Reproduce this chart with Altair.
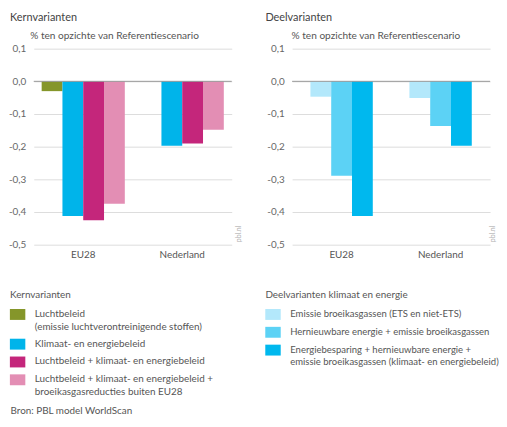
import altair as alt
import pandas as pd

FONT = "Lato"

countries = ["EU28", "Nederland"]

kern_series = [
    "Luchtbeleid|(emissie luchtverontreinigende stoffen)",
    "Klimaat- en energiebeleid",
    "Luchtbeleid + klimaat- en energiebeleid",
    "Luchtbeleid + klimaat- en energiebeleid +|broeikasgasreducties buiten EU28",
]
kern_eu28 = [-0.03, -0.412, -0.425, -0.375]
kern_nl = [0.0, -0.197, -0.19, -0.148]
kern_colors = ["#85962a", "#00b4ea", "#c4267b", "#e38eb4"]

deel_series = [
    "Emissie broeikasgassen (ETS en niet-ETS)",
    "Hernieuwbare energie + emissie broeikasgassen",
    "Energiebesparing + hernieuwbare energie +|emissie broeikasgassen (klimaat- en energiebeleid)",
]
deel_eu28 = [-0.047, -0.289, -0.412]
deel_nl = [-0.051, -0.137, -0.197]
deel_colors = ["#b3e8fb", "#5cd2f5", "#00b8ee"]

y_ticks = [-0.5, -0.4, -0.3, -0.2, -0.1, 0.0, 0.1]

W, H = 200, 198
BAR_W = 21
TXT = "#555555"


def panel(title, legend_title, series, eu, nl, colors, left_shift, sub_x, pbl_x,
          label_limit, label_size, bron=None):
    n = len(series)
    df = pd.DataFrame({
        "land": [countries[0]] * n + [countries[1]] * n,
        "serie": series + series,
        "waarde": eu + nl,
    })
    offset_pad = (W / 2 / BAR_W - n) / 2

    y_axis = alt.Axis(
        values=y_ticks,
        labelExpr="(datum.value < 0 ? '-' : '') + replace(format(abs(datum.value), '.1f'), '.', ',')",
        labelFontSize=10, labelColor="#666666", labelPadding=8,
        domain=False, ticks=False, grid=True, gridColor="#dddddd", gridWidth=1,
        title="% ten opzichte van Referentiescenario",
        titleAngle=0, titleX=sub_x, titleY=-13, titleAlign="left", titleBaseline="middle",
        titleFontSize=10.2, titleFontWeight="normal", titleColor=TXT,
    )
    if bron:
        x_axis = alt.Axis(
            labelAngle=0, labelFontSize=10, labelColor="#555555", labelPadding=5,
            domain=False, ticks=False, grid=False,
            title=bron, titleX=left_shift, titleY=168, titleAlign="left", titleBaseline="middle",
            titleFontSize=10, titleFontWeight="normal", titleColor=TXT,
        )
    else:
        x_axis = alt.Axis(
            labelAngle=0, labelFontSize=10, labelColor="#555555", labelPadding=5,
            domain=False, ticks=False, grid=False, title=None,
        )

    bars = alt.Chart(df).mark_bar(width=alt.RelativeBandSize(1.0)).encode(
        x=alt.X("land:N", sort=countries,
                scale=alt.Scale(domain=countries, paddingInner=0, paddingOuter=0), axis=x_axis),
        xOffset=alt.XOffset("serie:N", sort=series,
                            scale=alt.Scale(domain=series, paddingInner=0, paddingOuter=offset_pad)),
        y=alt.Y("waarde:Q", scale=alt.Scale(domain=[-0.5, 0.1], nice=False), axis=y_axis),
        color=alt.Color(
            "serie:N", sort=series,
            scale=alt.Scale(domain=series, range=colors),
            legend=alt.Legend(
                title=legend_title, orient="none", legendX=left_shift, legendY=244,
                direction="vertical", padding=0, gridAlign="none",
                titleFontSize=10, titleFontWeight="normal", titleColor=TXT, titlePadding=4,
                labelFontSize=label_size, labelColor=TXT, labelBaseline="top", labelOffset=15.1,
                labelExpr="split(datum.label, '|')", labelLimit=label_limit,
                symbolType="M-1.02,0H2.1V2.2H-1.02Z", symbolSize=100, symbolStrokeWidth=0,
                symbolOpacity=1, rowPadding=2,
            ),
        ),
    )

    zero = alt.Chart(pd.DataFrame({"nul": [0.0]})).mark_rule(color="#999999", strokeWidth=1).encode(
        y=alt.Y("nul:Q", axis=alt.Axis(
            orient="right", labels=False, ticks=False, domain=False, grid=False,
            title="pbl.nl", titleAngle=270, titleX=pbl_x, titleY=H - 3,
            titleAlign="left", titleBaseline="middle",
            titleFontSize=7, titleFontWeight="normal", titleColor="#b0b0b0",
        ))
    )

    return alt.layer(bars, zero).resolve_axis(y="independent").properties(
        width=W, height=H,
        title=alt.TitleParams(
            text=title, anchor="start", frame="group", dx=left_shift,
            fontSize=11, fontWeight="normal", color="#444444", offset=8,
        ),
    )


left = panel("Kernvarianten", "Kernvarianten", kern_series, kern_eu28, kern_nl,
             kern_colors, -24, -4, 7, 300, 10, bron="Bron: PBL model WorldScan")
right = panel("Deelvarianten", "Deelvarianten klimaat en energie", deel_series, deel_eu28,
              deel_nl, deel_colors, -27, -1, 2, 212, 9.6)

chart = alt.hconcat(left, right, spacing=61, bounds="flush").resolve_scale(
    color="independent", x="independent", xOffset="independent", y="independent"
).properties(
    padding={"left": 0, "top": 2, "right": 0, "bottom": 0},
).configure(
    font=FONT, background="white",
    style={"guide-label": {"lineHeight": 13}}
).configure_view(stroke=None)

chart.save("out.html", embed_options={"renderer": "svg", "actions": False})
